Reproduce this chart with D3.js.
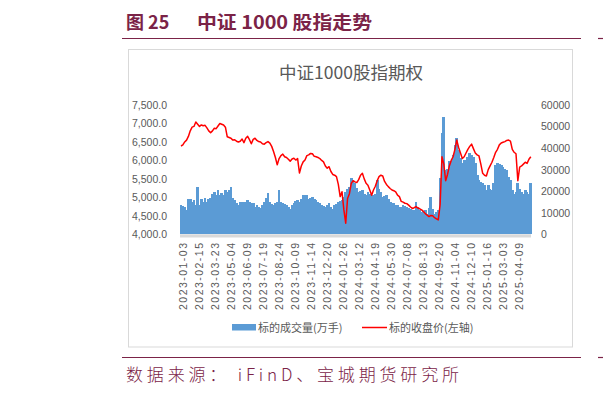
<!DOCTYPE html>
<html>
<head>
<meta charset="utf-8">
<script src="https://cdn.jsdelivr.net/npm/d3@7/dist/d3.min.js"></script>
<style>
  html, body { margin: 0; padding: 0; background: #fff; }
  svg { display: block; }
</style>
</head>
<body>
<svg id="chart" width="603" height="394"></svg>
<script>
// ---------------- DATA ----------------
// x-axis category labels (every 26th trading day)
const tickDates = ["2023-01-03","2023-02-15","2023-03-23","2023-05-04","2023-06-09","2023-07-19",
  "2023-08-24","2023-10-09","2023-11-14","2023-12-20","2024-01-26","2024-03-12","2024-04-19",
  "2024-05-30","2024-07-08","2024-08-13","2024-09-20","2024-11-04","2024-12-10","2025-01-16",
  "2025-03-03","2025-04-09"];
const tickEvery = 26;        // trading days between labels
const sampleEvery = 3;       // trading days between samples below
const totalDays = 567;

// 标的收盘价 (left axis) sampled every 3 trading days
const closePrice = [
6390,6420,6500,6550,6650,6800,6900,6920,7040,6980,
6920,6960,6940,6950,6880,6800,6750,6800,6870,6860,
6930,7000,6980,6960,6900,6640,6620,6600,6550,6560,
6520,6500,6520,6580,6480,6600,6650,6560,6450,6570,
6600,6540,6510,6500,6450,6440,6480,6510,6470,6380,
6240,6080,5880,6050,6130,6170,6100,6080,6030,5980,
6040,6060,6010,6050,5660,5850,5960,6010,6130,6150,
6190,6180,6110,6100,6080,6050,6000,5960,5850,5790,
5830,5700,5620,5600,5560,5350,5020,5150,4660,4300,
4970,5100,5380,5450,5420,5400,5480,5600,5650,5500,
5380,5330,5200,5060,5200,5300,5450,5560,5600,5580,
5430,5350,5290,5240,5200,5180,5150,5060,5020,4890,
4870,4840,4830,4790,4740,4700,4720,4750,4710,4690,
4660,4620,4560,4520,4480,4510,4500,4450,4420,4390,
4800,6100,5900,5450,5620,5850,6000,6100,6300,6550,
6350,6200,6050,6100,6200,6300,6380,6440,6320,6200,
6150,6120,5900,5650,5600,5580,5750,5850,5950,6080,
6220,6300,6420,6470,6490,6510,6540,6550,6520,6300,
6220,6180,5450,5820,5850,5900,5950,5920,6030,6100];

// 标的成交量(万手) (right axis) sampled every 3 trading days
const volume = [
13500,13000,12500,11200,16600,16400,15000,15800,13500,22000,
13500,16600,15000,16900,15000,16600,17000,18500,19400,18100,
20500,18100,19300,18100,20500,19700,20500,22000,17000,15800,
14300,13500,15000,14800,15000,15000,16000,15000,14600,14300,
12700,13500,12800,12200,13500,14800,17000,19300,15200,14000,
13500,14300,15000,20500,15000,14300,14000,13500,12700,11900,
13500,14300,15500,15800,15000,16500,18100,17500,18400,16600,
17000,17300,16200,15800,15000,14500,13500,13000,12700,13800,
14300,12500,11900,13500,14000,15000,15500,15800,17500,19700,
21200,22000,25900,24500,23600,21500,19700,20000,20500,18800,
18100,19700,18900,18100,18100,18500,25100,21000,19700,17300,
17700,18100,16500,15000,14600,14300,13800,13500,12900,12700,
13500,13000,12700,12300,11900,11500,11200,15000,12700,11500,
10400,10800,11200,9600,12000,17300,11900,9600,10200,11200,
25900,46800,54500,29800,30500,33800,34000,36700,41400,44500,
39000,35200,32900,34500,31300,36000,37500,36700,36000,32900,
27400,25100,24300,23600,22800,20500,22800,21200,20500,23600,
32100,32900,32500,32100,31300,30500,29800,26700,25100,20500,
18900,19700,23600,21200,19700,18900,20500,19700,18900,23600];

const leftTicks = [4000,4500,5000,5500,6000,6500,7000,7500];
const rightTicks = [0,10000,20000,30000,40000,50000,60000];

const pageTitleNo = "图 25";
const pageTitle = "中证 1000 股指走势";
const chartTitle = "中证1000股指期权";
const seriesNames = ["标的成交量(万手)", "标的收盘价(左轴)"];
const sourceText = "数据来源：  iFinD、宝城期货研究所";

// ---------------- DRAW ----------------
const svg = d3.select("#chart");
const maroon = "#7b2347";
const grey = "#595959";
const cjk = "'Noto Sans CJK SC', 'Noto Sans', sans-serif";
const latin = "'Liberation Sans', Arial, sans-serif";

svg.append("rect").attr("width", 603).attr("height", 394).attr("fill", "#fff");

// page heading
svg.append("text").attr("x", 126).attr("y", 29)
  .attr("font-family", cjk).attr("font-weight", 700).attr("font-size", 18)
  .attr("fill", maroon).text(pageTitleNo);
svg.append("text").attr("x", 197).attr("y", 29)
  .attr("font-family", cjk).attr("font-weight", 700).attr("font-size", 18)
  .attr("fill", maroon).attr("textLength", 175).attr("lengthAdjust", "spacingAndGlyphs")
  .text(pageTitle);
svg.append("line").attr("x1", 122).attr("x2", 581).attr("y1", 38.5).attr("y2", 38.5)
  .attr("stroke", maroon).attr("stroke-width", 1.2);
// neighbouring panel fragment on the right edge (only its rule is visible)
svg.append("line").attr("x1", 598).attr("x2", 603).attr("y1", 38.5).attr("y2", 38.5)
  .attr("stroke", maroon).attr("stroke-width", 1.2);

// chart frame
svg.append("rect").attr("x", 128.5).attr("y", 49.5).attr("width", 444).attr("height", 297.5)
  .attr("fill", "#fff").attr("stroke", "#d9d9d9").attr("stroke-width", 1);

svg.append("text").attr("x", 351).attr("y", 79).attr("text-anchor", "middle")
  .attr("font-family", cjk).attr("font-size", 17).attr("fill", grey)
  .attr("textLength", 144).attr("lengthAdjust", "spacingAndGlyphs")
  .text(chartTitle);

// scales
const x = d3.scaleLinear().domain([0, totalDays]).range([181, 530.8]);
const yL = d3.scaleLinear().domain([4000, 7500]).range([234.3, 105]);
const yR = d3.scaleLinear().domain([0, 60000]).range([234.3, 105]);
const barW = x(sampleEvery) - x(0) + 0.9;

// volume bars
svg.append("g").attr("shape-rendering", "crispEdges")
  .selectAll("rect").data(volume).join("rect")
  .attr("x", (d, i) => x(i * sampleEvery) - barW / 2)
  .attr("width", barW)
  .attr("y", d => yR(d))
  .attr("height", d => yR(0) - yR(d))
  .attr("fill", "#5b9bd5");

// category axis line (grey band)
svg.append("rect").attr("x", 180).attr("y", yR(0)).attr("width", 351).attr("height", 3.2)
  .attr("fill", "#d9d9d9");

// close line
const line = d3.line().x((d, i) => x(i * sampleEvery)).y(d => yL(d));
svg.append("path").datum(closePrice).attr("d", line)
  .attr("fill", "none").attr("stroke", "#ff0000").attr("stroke-width", 1.5)
  .attr("stroke-linejoin", "round");

// left axis
const axL = svg.append("g").attr("transform", "translate(170,0)")
  .call(d3.axisLeft(yL).tickValues(leftTicks).tickFormat(d3.format(",.1f")).tickSize(0).tickPadding(3));
axL.select(".domain").remove();
axL.selectAll("text").attr("font-family", latin).attr("font-size", 10.5).attr("fill", grey);

// right axis
const axR = svg.append("g").attr("transform", "translate(538,0)")
  .call(d3.axisRight(yR).tickValues(rightTicks).tickFormat(d3.format("d")).tickSize(0).tickPadding(3));
axR.select(".domain").remove();
axR.selectAll("text").attr("font-family", latin).attr("font-size", 10.5).attr("fill", grey);

// x axis labels (rotated)
const xb = d3.axisBottom(x)
  .tickValues(tickDates.map((d, i) => i * tickEvery))
  .tickFormat((d) => tickDates[d / tickEvery]).tickSize(0);
const axX = svg.append("g").attr("transform", "translate(0,243)").call(xb);
axX.select(".domain").remove();
axX.selectAll("text")
  .attr("font-family", latin).attr("font-size", 10.5).attr("fill", grey)
  .attr("text-anchor", "end").attr("dominant-baseline", "central")
  .attr("transform", "rotate(-90)").attr("x", 0).attr("y", 1).attr("dy", null)
  .attr("textLength", 67).attr("lengthAdjust", "spacing");

// legend
const lg = svg.append("g");
lg.append("rect").attr("x", 232).attr("y", 324).attr("width", 24).attr("height", 6.5).attr("fill", "#5b9bd5");
lg.append("text").attr("x", 258).attr("y", 331.5).attr("font-family", cjk).attr("font-size", 11)
  .attr("fill", grey).text(seriesNames[0]);
lg.append("line").attr("x1", 362).attr("x2", 387).attr("y1", 327.5).attr("y2", 327.5)
  .attr("stroke", "#ff0000").attr("stroke-width", 1.5);
lg.append("text").attr("x", 389).attr("y", 331.5).attr("font-family", cjk).attr("font-size", 11)
  .attr("fill", grey).text(seriesNames[1]);

// bottom rule + source
svg.append("line").attr("x1", 122).attr("x2", 581).attr("y1", 357.5).attr("y2", 357.5)
  .attr("stroke", maroon).attr("stroke-width", 1.2);
svg.append("line").attr("x1", 598).attr("x2", 603).attr("y1", 357.5).attr("y2", 357.5)
  .attr("stroke", maroon).attr("stroke-width", 1.2);
svg.append("text").attr("x", 126).attr("y", 381)
  .attr("font-family", cjk).attr("font-weight", 300).attr("font-size", 17)
  .attr("fill", maroon).attr("textLength", 333).attr("lengthAdjust", "spacing")
  .text(sourceText);
</script>
</body>
</html>
